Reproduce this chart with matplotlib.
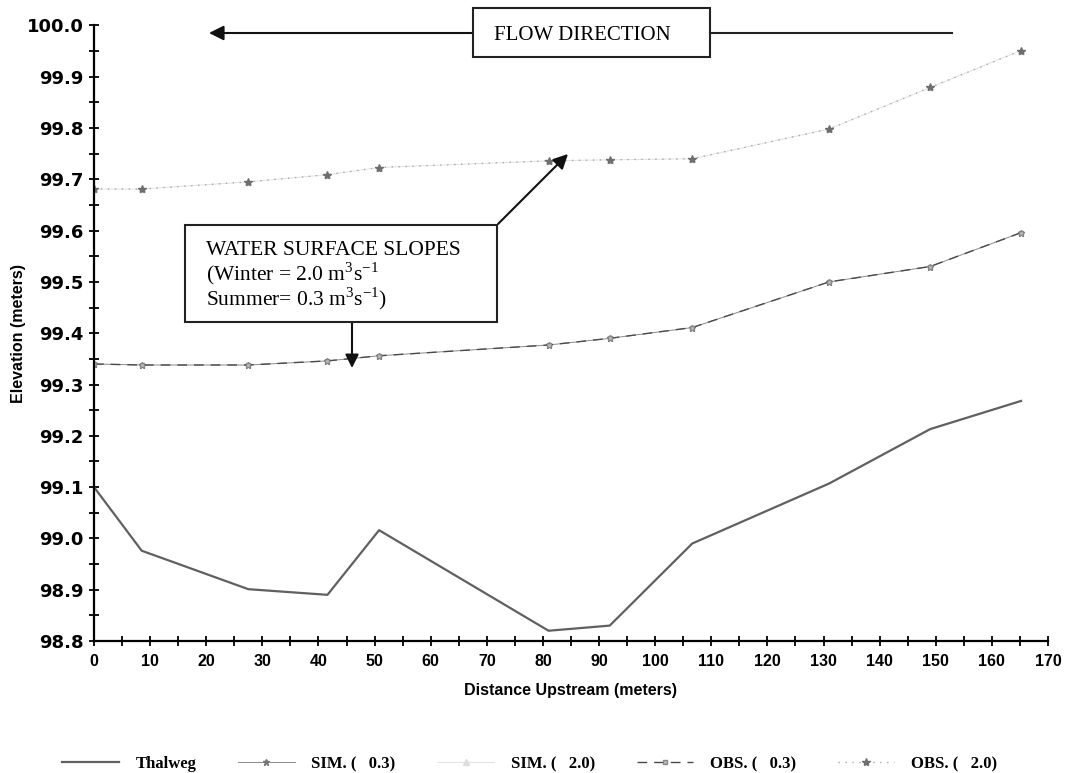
import numpy as np
import matplotlib
matplotlib.use("Agg")
import matplotlib.pyplot as plt
from matplotlib.patches import Rectangle
from matplotlib.lines import Line2D

###############################################################################
# Data
distance = [0, 8.5, 27.5, 41.6, 50.8, 81.0, 91.9, 106.6, 131.0, 149.0, 165.2]
thalweg = [99.100, 98.976, 98.901, 98.890, 99.016, 98.820, 98.830, 98.990,
           99.107, 99.213, 99.268]
sim_03 = [99.340, 99.338, 99.338, 99.346, 99.356, 99.377, 99.390, 99.411,
          99.500, 99.530, 99.596]
obs_03 = [99.340, 99.338, 99.338, 99.346, 99.356, 99.377, 99.390, 99.411,
          99.500, 99.530, 99.596]
sim_20 = [99.681, 99.681, 99.695, 99.709, 99.723, 99.736, 99.738, 99.740,
          99.798, 99.879, 99.951]
obs_20 = [99.681, 99.681, 99.695, 99.709, 99.723, 99.736, 99.738, 99.740,
          99.798, 99.879, 99.951]
labels = ['Thalweg', 'SIM. (   0.3)', 'SIM. (   2.0)', 'OBS. (   0.3)',
          'OBS. (   2.0)']

plt.rcParams['mathtext.fontset'] = 'custom'
plt.rcParams['mathtext.rm'] = 'Liberation Serif'

W, H = 1070, 773


def fx(px):
    return px / W


def fy(py):
    return 1 - py / H


###############################################################################
# Figure and axes
fig = plt.figure(figsize=(W / 100, H / 100), dpi=100)
ax = fig.add_axes([fx(94), fy(641), (1048 - 94) / W, (641 - 25.4) / H])

ax.plot(distance, thalweg, color='#606060', lw=1.6, label=labels[0])
ax.plot(distance, sim_03, color='#8a8a8a', lw=0.7, marker='*', ms=5,
        mfc='#777777', mec='#777777', label=labels[1])
ax.plot(distance, sim_20, color='#e2e2e2', lw=0.7, marker='^', ms=4,
        mfc='#dddddd', mec='#dddddd', label=labels[2])
ax.plot(distance, obs_03, color='#4a4a4a', lw=1.0, ls=(0, (7, 5)),
        marker='s', ms=3.5, mfc='#bbbbbb', mec='#888888', label=labels[3])
ax.plot(distance, obs_20, color='#a8a8a8', lw=1.0, ls=(0, (1, 4)),
        marker='*', ms=6, mfc='#6e6e6e', mec='#6e6e6e', label=labels[4])

# Axes limits and ticks
ax.set_xlim(0, 170)
ax.set_ylim(98.8, 100.0)
ax.set_xticks(np.arange(0, 171, 10))
ax.set_xticks(np.arange(0, 171, 5), minor=True)
ax.set_yticks(np.arange(98.8, 100.01, 0.1))
ax.set_yticks(np.arange(98.8, 100.01, 0.05), minor=True)
ax.yaxis.set_major_formatter(matplotlib.ticker.FormatStrFormatter('%.1f'))

for s in ['top', 'right']:
    ax.spines[s].set_visible(False)
for s in ['left', 'bottom']:
    ax.spines[s].set_linewidth(1.6)
ax.tick_params(which='both', direction='inout', length=7, width=1.3)
ax.tick_params(axis='x', which='major', pad=6)
ax.tick_params(axis='y', which='major', pad=4)

for t in ax.get_xticklabels():
    t.set_fontfamily('Liberation Sans')
    t.set_fontweight('bold')
    t.set_fontsize(11.5)
for t in ax.get_yticklabels():
    t.set_fontfamily('DejaVu Sans')
    t.set_fontweight('bold')
    t.set_fontsize(13)

ax.set_xlabel('Distance Upstream (meters)', fontfamily='Liberation Sans',
              fontweight='bold', fontsize=11.5)
ax.xaxis.set_label_coords(0.499, -0.068)
ax.set_ylabel('Elevation (meters)', fontfamily='Liberation Sans',
              fontweight='bold', fontsize=11.5)
ax.yaxis.set_label_coords(-0.071, 0.5)

###############################################################################
# Annotations: flow direction
fig.patches.append(Rectangle((fx(473), fy(57)), (710 - 473) / W, (57 - 8) / H,
                             transform=fig.transFigure, fill=False,
                             lw=1.5, ec='#222222'))
fig.text(fx(494), fy(40), 'FLOW DIRECTION', fontfamily='Liberation Serif',
         fontsize=15, va='baseline', ha='left')
fig.lines.append(Line2D([fx(710), fx(952)], [fy(33), fy(33)],
                        transform=fig.transFigure, color='#222222', lw=1.5))
ax.annotate('', xy=(fx(209), fy(33)), xytext=(fx(473), fy(33)),
            xycoords='figure fraction', textcoords='figure fraction',
            arrowprops=dict(arrowstyle='-|>', color='#111111', lw=1.5,
                            mutation_scale=22, shrinkA=0, shrinkB=0))

# Water surface slopes box
fig.patches.append(Rectangle((fx(185), fy(322)), (497 - 185) / W,
                             (322 - 225) / H, transform=fig.transFigure,
                             fill=False, lw=1.5, ec='#222222'))
box_lines = ['WATER SURFACE SLOPES',
             '(Winter = 2.0 m$^{3}$s$^{-1}$',
             'Summer= 0.3 m$^{3}$s$^{-1}$)']
for i, line in enumerate(box_lines):
    fig.text(fx(206), fy(255 + 25 * i), line, fontfamily='Liberation Serif',
             fontsize=15.5, va='baseline', ha='left')
ax.annotate('', xy=(fx(568), fy(154)), xytext=(fx(498), fy(224)),
            xycoords='figure fraction', textcoords='figure fraction',
            arrowprops=dict(arrowstyle='-|>', color='#111111', lw=1.5,
                            mutation_scale=22, shrinkA=0, shrinkB=0))
ax.annotate('', xy=(fx(352), fy(368)), xytext=(fx(352), fy(322)),
            xycoords='figure fraction', textcoords='figure fraction',
            arrowprops=dict(arrowstyle='-|>', color='#111111', lw=1.5,
                            mutation_scale=20, shrinkA=0, shrinkB=0))

###############################################################################
# Legend along the bottom
fig.legend(loc='center', bbox_to_anchor=(0.495, 0.0115), ncol=5,
           frameon=False, handlelength=3.4, handletextpad=1.0,
           columnspacing=2.5, prop=dict(family='Liberation Serif',
                                        weight='bold', size=12))

fig.savefig('out.png', dpi=100)
